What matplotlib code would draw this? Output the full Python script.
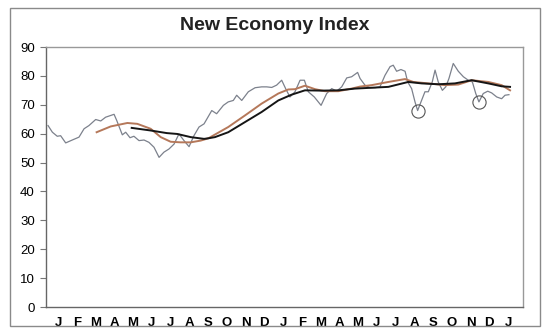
import matplotlib.pyplot as plt
from matplotlib.patches import Rectangle

plt.rcParams['font.family'] = ['Liberation Sans', 'DejaVu Sans']

# місяці на осі X (дві роки + січень)
months = ["J", "F", "M", "A", "M", "J", "J", "A", "S", "O", "N", "D",
          "J", "F", "M", "A", "M", "J", "J", "A", "S", "O", "N", "D", "J"]

# тижневий індекс: позиція (у місяцях) і значення
weekly_x = [-0.53, -0.30, -0.04, 0.14, 0.41, 0.76, 1.12, 1.39, 1.65, 2.01,
            2.28, 2.54, 2.81, 2.99, 3.13, 3.43, 3.61, 3.84, 4.05, 4.32,
            4.59, 4.85, 5.12, 5.39, 5.65, 5.92, 6.19, 6.45, 6.72, 6.99,
            7.25, 7.52, 7.79, 8.20, 8.46, 8.82, 9.08, 9.35, 9.53, 9.80,
            10.15, 10.51, 10.86, 11.13, 11.40, 11.66, 11.93, 12.14, 12.37, 12.64,
            12.91, 13.14, 13.35, 13.67, 14.03, 14.33, 14.60, 14.86, 15.13, 15.40,
            15.66, 15.98, 16.11, 16.37, 16.64, 16.91, 17.17, 17.44, 17.71, 17.88,
            18.06, 18.29, 18.51, 18.65, 18.86, 19.04, 19.18, 19.36, 19.57, 19.75,
            19.96, 20.11, 20.28, 20.50, 20.68, 20.85, 21.08, 21.35, 21.62, 21.88,
            22.10, 22.28, 22.45, 22.68, 22.92, 23.13, 23.40, 23.66, 23.84, 24.05]
weekly_y = [62.8, 60.5, 59.1, 59.3, 56.8, 57.8, 58.8, 61.7, 62.8, 64.9,
            64.4, 65.7, 66.3, 66.7, 64.6, 59.6, 60.5, 58.6, 59.1, 57.6,
            57.8, 57.0, 55.3, 51.8, 53.6, 54.7, 56.4, 59.9, 57.6, 55.5,
            59.3, 62.3, 63.4, 68.0, 66.9, 69.8, 71.0, 71.5, 73.3, 71.5,
            74.5, 75.9, 76.2, 76.2, 76.0, 76.8, 78.5, 75.6, 72.7, 74.5,
            78.5, 78.5, 74.5, 72.7, 69.8, 73.9, 75.6, 74.7, 76.2, 79.3,
            79.7, 81.2, 79.1, 76.8, 75.9, 75.9, 76.2, 80.2, 83.2, 83.7,
            81.6, 82.2, 81.6, 77.9, 75.6, 71.0, 68.0, 71.0, 74.5, 74.5,
            77.9, 82.0, 77.9, 75.0, 76.2, 79.1, 84.3, 81.6, 79.7, 78.5,
            77.9, 73.9, 71.0, 73.9, 74.7, 74.1, 72.7, 72.1, 73.3, 73.5]

# коротка ковзна середня (коричнева)
short_x = [2.06, 2.81, 3.70, 4.23, 4.94, 5.48, 6.01, 6.54, 7.08, 7.61,
           8.02, 9.08, 9.97, 10.86, 11.75, 12.28, 12.64, 13.17, 13.71, 14.24,
           14.95, 15.66, 16.11, 16.73, 17.62, 18.51, 18.95, 19.75, 20.64, 21.35,
           22.06, 22.95, 23.66, 24.11]
short_y = [60.5, 62.5, 63.7, 63.4, 61.7, 58.8, 57.2, 57.0, 57.0, 57.6,
           58.4, 62.3, 66.3, 70.4, 73.9, 75.3, 75.4, 76.6, 75.4, 74.7,
           74.7, 75.6, 76.3, 76.8, 77.9, 78.9, 77.9, 77.4, 76.8, 77.0,
           78.5, 77.9, 76.8, 75.0]

# довга ковзна середня (чорна)
long_x = [3.93, 4.94, 5.80, 6.36, 7.08, 7.79, 8.02, 8.37, 9.08, 9.97,
          10.86, 11.75, 12.46, 13.17, 14.06, 14.95, 15.84, 16.73, 17.62, 18.68,
          19.40, 20.28, 21.17, 22.06, 22.95, 23.66, 24.11]
long_y = [62.0, 61.1, 60.2, 59.9, 58.8, 58.2, 58.4, 58.8, 60.5, 64.0,
          67.5, 71.5, 73.5, 75.0, 74.9, 75.0, 75.6, 75.9, 76.2, 77.9,
          77.4, 77.1, 77.4, 78.5, 77.4, 76.4, 76.2]

# обведені провали
circle_x = [19.18, 22.45]
circle_y = [68.0, 71.0]

fig = plt.figure(figsize=(5.5, 3.35), dpi=100)
fig.patches.append(Rectangle((10 / 550, 1 - 326 / 335), 530 / 550, 318 / 335,
                             transform=fig.transFigure, fill=False,
                             edgecolor="#8a8a8a", linewidth=1.0))

ax = fig.add_axes([46 / 550, 1 - 307 / 335, 477 / 550, 260 / 335])

ax.plot(weekly_x, weekly_y, color="#7c818c", linewidth=0.9)
ax.plot(short_x, short_y, color="#b5785a", linewidth=1.4)
ax.plot(long_x, long_y, color="#151515", linewidth=1.4)
ax.plot(circle_x, circle_y, linestyle="none", marker="o", markersize=9.5,
        markerfacecolor="none", markeredgecolor="#555555", markeredgewidth=0.8)

ax.set_xlim(-0.64, 24.8)
ax.set_ylim(0, 90)
ax.set_yticks(range(0, 91, 10))
ax.set_xticks(range(len(months)))
ax.set_xticklabels(months, fontweight="bold")

ax.tick_params(axis="y", length=4, width=0.8, color="#777777", pad=4, labelsize=9.5)
ax.tick_params(axis="x", length=0, pad=7, labelsize=9.5)
for s in ax.spines.values():
    s.set_color("#999999")
    s.set_linewidth(1.0)
ax.spines["left"].set_color("#666666")
ax.spines["bottom"].set_color("#666666")

fig.text(0.5, 1 - 26 / 335, "New Economy Index", ha="center", va="center",
         fontsize=14, fontweight="bold", color="#222222")

fig.savefig("out.png", dpi=100)
